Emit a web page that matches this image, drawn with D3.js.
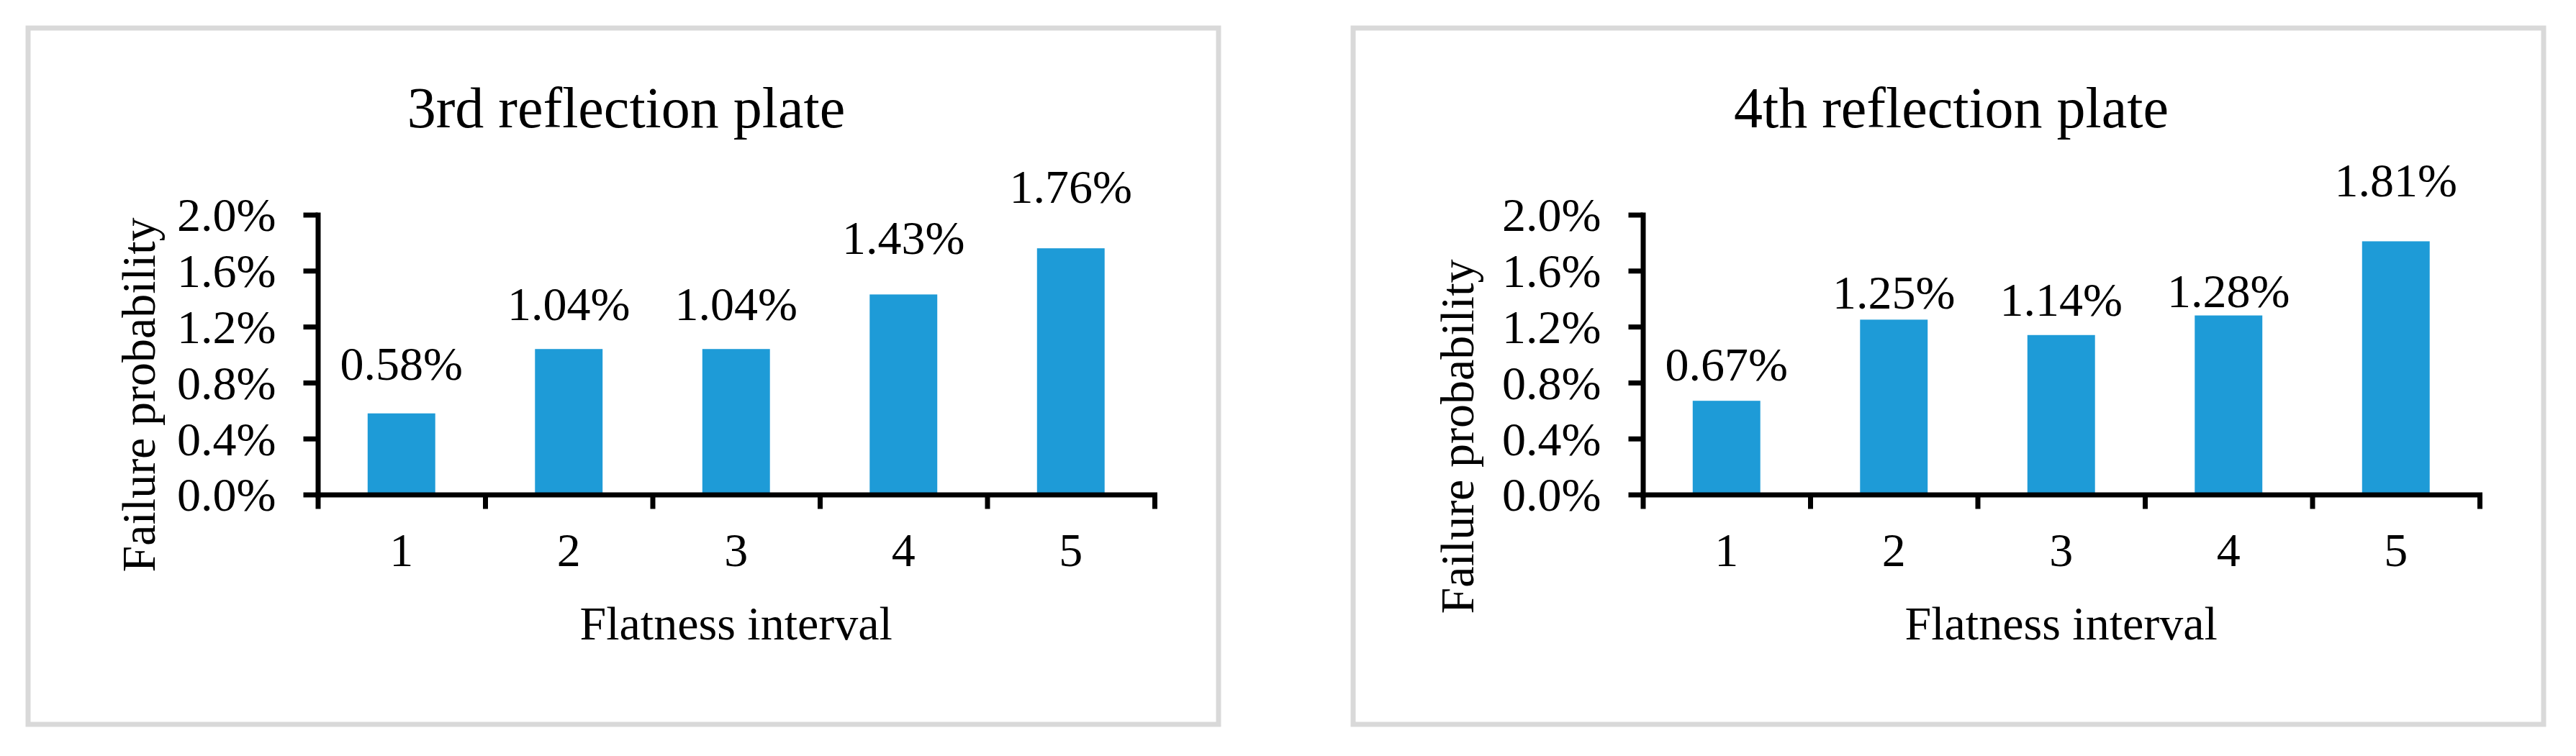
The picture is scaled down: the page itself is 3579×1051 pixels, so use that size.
<!DOCTYPE html>
<html>
<head>
<meta charset="utf-8">
<script src="https://cdn.jsdelivr.net/npm/d3@7"></script>
<style>
  body { margin: 0; background: #fff; }
  text { font-family: "Liberation Serif", "Times New Roman", serif; fill: #000; }
</style>
</head>
<body>
<div id="d3svg"></div>
<script>
const categories = ["1", "2", "3", "4", "5"]
const titles = ["3rd reflection plate", "4th reflection plate"]
const plate3 = [0.0058, 0.0104, 0.0104, 0.0143, 0.0176]
const plate4 = [0.0067, 0.0125, 0.0114, 0.0128, 0.0181]
const yTicks = [0, 0.004, 0.008, 0.012, 0.016, 0.02]
const xTitle = "Flatness interval"
const yTitle = "Failure probability"

const width = 3579,
      height = 1051,
      panelW = 1654,
      panelH = 968,
      plotW = 1162.5,
      plotH = 389;

let svg = d3.select("#d3svg")
    .append("svg")
    .attr("width", width)
    .attr("height", height)
    .attr("viewBox", `0 0 ${width} ${height}`)

svg.append("rect").attr("width", width).attr("height", height).attr("fill", "#fff")

// one panel per plate; data labels were hand placed in the original, so each has its own gap
const panels = [
  {x0: 39, y0: 39, title: titles[0], values: plate3, yLabX: 176, yLabY: 510,
   labelGap: [47, 40, 40, 56, 63]},
  {x0: 1880, y0: 39, title: titles[1], values: plate4, yLabX: 167, yLabY: 568,
   labelGap: [28, 15, 27, 12, 62]}
]

const drawPanel = (p) => {
  let g = svg.append("g").attr("transform", `translate(${p.x0},${p.y0})`)

  g.append("rect")
    .attr("width", panelW)
    .attr("height", panelH)
    .attr("fill", "#fff")
    .attr("stroke", "#d9d9d9")
    .attr("stroke-width", 7)

  g.append("text")
    .attr("x", panelW / 2 + 4)
    .attr("y", 138)
    .style("text-anchor", "middle")
    .style("font-size", "80px")
    .text(p.title)

  let plot = g.append("g").attr("transform", "translate(402.5,259.5)")

  let x = d3.scaleBand()
    .domain(categories)
    .range([0, plotW])
    .paddingInner(0.596)
    .paddingOuter(0.298)

  let xEdges = d3.scaleLinear().domain([0, categories.length]).range([0, plotW])

  let y = d3.scaleLinear().domain([0, 0.02]).range([plotH, 0])

  plot.selectAll("rect.bar")
    .data(p.values)
    .enter().append("rect")
    .attr("class", "bar")
    .attr("x", (d, i) => x(categories[i]))
    .attr("y", d => y(d))
    .attr("width", x.bandwidth())
    .attr("height", d => y(0) - y(d))
    .attr("fill", "#1e9bd7")

  plot.selectAll("text.val")
    .data(p.values)
    .enter().append("text")
    .attr("class", "val")
    .attr("x", (d, i) => x(categories[i]) + x.bandwidth() / 2)
    .attr("y", (d, i) => y(d) - p.labelGap[i])
    .style("text-anchor", "middle")
    .style("font-size", "66px")
    .text(d => d3.format(".2%")(d))

  // y axis
  let yAxis = plot.append("g")
    .call(d3.axisLeft(y).tickValues(yTicks).tickFormat(d3.format(".1%"))
      .tickSizeInner(20).tickSizeOuter(0).tickPadding(38))
  yAxis.select(".domain").attr("stroke", "#000").attr("stroke-width", 7).attr("stroke-linecap", "square")
  yAxis.selectAll(".tick line").attr("stroke", "#000").attr("stroke-width", 7)
  yAxis.selectAll(".tick text")
    .attr("dy", "0.34em")
    .style("font-size", "66px")
    .style("font-family", "'Liberation Serif', 'Times New Roman', serif")

  // x axis: boundary ticks + centered labels
  let xAxisEdges = plot.append("g")
    .attr("transform", `translate(0,${plotH})`)
    .call(d3.axisBottom(xEdges).ticks(categories.length).tickFormat("")
      .tickSizeInner(20).tickSizeOuter(0))
  xAxisEdges.select(".domain").attr("stroke", "#000").attr("stroke-width", 7).attr("stroke-linecap", "square")
  xAxisEdges.selectAll(".tick line").attr("stroke", "#000").attr("stroke-width", 7)

  let xAxis = plot.append("g")
    .attr("transform", `translate(0,${plotH})`)
    .call(d3.axisBottom(x).tickSize(0))
  xAxis.select(".domain").remove()
  xAxis.selectAll(".tick text")
    .attr("y", 99.5)
    .attr("dy", 0)
    .style("font-size", "66px")
    .style("font-family", "'Liberation Serif', 'Times New Roman', serif")

  plot.append("text")
    .attr("x", plotW / 2)
    .attr("y", plotH + 201.5)
    .style("text-anchor", "middle")
    .style("font-size", "66px")
    .text(xTitle)

  g.append("text")
    .attr("transform", `translate(${p.yLabX},${p.yLabY}) rotate(-90)`)
    .style("text-anchor", "middle")
    .style("font-size", "66px")
    .text(yTitle)
}

panels.forEach(drawPanel)
</script>
</body>
</html>
